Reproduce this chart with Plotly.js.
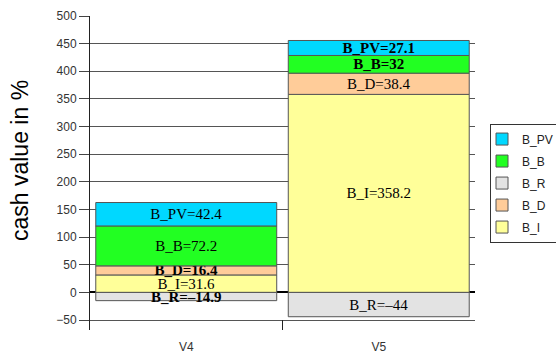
<!DOCTYPE html>
<html>
<head>
<meta charset="utf-8">
<script src="https://cdn.plot.ly/plotly-3.0.1.min.js"></script>
<style>html,body{margin:0;padding:0;background:#fff;}#chart{width:556px;height:355px;}</style>
</head>
<body>
<div id="chart"></div>
<script>
// ---- data ----
const categories = ["V4", "V5"];
const seriesNames = ["B_I", "B_D", "B_R", "B_B", "B_PV"];
const B_I  = [31.6, 358.2];
const B_D  = [16.4, 38.4];
const B_R  = [-14.9, -44];
const B_B  = [72.2, 32];
const B_PV = [42.4, 27.1];
const yTickVals = [-50, 0, 50, 100, 150, 200, 250, 300, 350, 400, 450, 500];
const yTitle = "cash value in %";

// ---- style ----
const colors = {B_I: "#FFFF99", B_D: "#FFCC99", B_R: "#E3E3E3", B_B: "#22FF22", B_PV: "#00D8FF"};
const boldLabels = {B_I: [false, false], B_D: [true, false], B_R: [true, false], B_B: [false, true], B_PV: [false, true]};
const valuesByName = {B_I, B_D, B_R, B_B, B_PV};

const traces = seriesNames.map((name, k) => {
  const vals = valuesByName[name];
  return {
    type: "bar",
    name: name,
    x: categories,
    y: vals,
    width: 0.94,
    legendgroup: name,
    legendrank: 100 - k,
    marker: {color: colors[name], line: {color: "#555555", width: 1}},
    text: vals.map((v, i) => {
      const s = name + "=" + String(v).replace("-", "\u2013");
      return boldLabels[name][i] ? "<b>" + s + "</b>" : s;
    }),
    textposition: "inside",
    insidetextanchor: "middle",
    textangle: 0,
    constraintext: "none",
    cliponaxis: false,
    textfont: {family: "Liberation Serif, Times New Roman, serif", size: 15, color: "#000"},
    hoverinfo: "skip"
  };
});

const layout = {
  width: 556, height: 355,
  margin: {l: 90, r: 81, t: 16, b: 25, pad: 0, autoexpand: false},
  paper_bgcolor: "#fff", plot_bgcolor: "#fff",
  barmode: "relative",
  showlegend: true,
  legend: {
    x: 1.039, xanchor: "left", y: 0.468, yanchor: "middle",
    traceorder: "grouped", tracegroupgap: 3,
    bordercolor: "#333", borderwidth: 1, bgcolor: "#fff",
    indentation: -9,
    font: {family: "Liberation Sans, Arial, sans-serif", size: 12, color: "#222"}
  },
  xaxis: {
    type: "category", range: [-0.5, 1.5],
    showgrid: false, showline: false, zeroline: false,
    ticks: "inside", tickson: "boundaries", ticklen: 10, tickcolor: "#222",
    ticklabelstandoff: 8,
    tickfont: {family: "Liberation Sans, Arial, sans-serif", size: 12, color: "#333"}
  },
  yaxis: {
    range: [-68, 500], tickvals: yTickVals,
    showgrid: true, gridcolor: "#555", gridwidth: 1,
    zeroline: true, zerolinecolor: "#000", zerolinewidth: 2,
    showline: true, linecolor: "#222", linewidth: 1,
    ticks: "outside", ticklen: 10, tickcolor: "#444",
    tickfont: {family: "Liberation Sans, Arial, sans-serif", size: 12, color: "#333"}
  },
  annotations: [{
    text: yTitle, textangle: -90, showarrow: false,
    xref: "paper", yref: "paper",
    x: (20 - 90) / 385, y: (330 - 161) / 314,
    xanchor: "center", yanchor: "middle",
    font: {family: "Liberation Sans, Arial, sans-serif", size: 23, color: "#000"}
  }]
};

Plotly.newPlot("chart", traces, layout, {displayModeBar: false, staticPlot: true});
</script>
</body>
</html>
